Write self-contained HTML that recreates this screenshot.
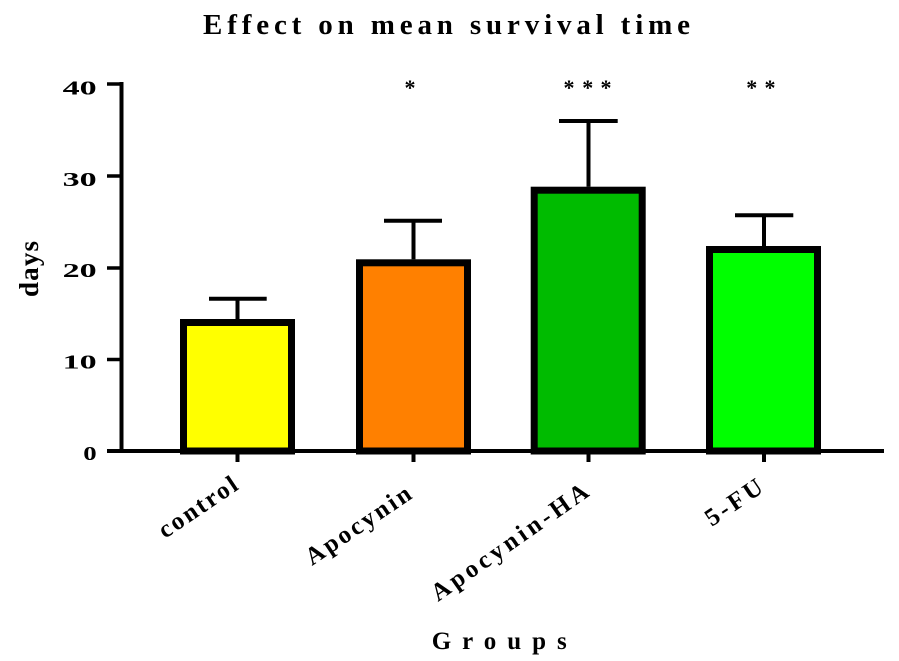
<!DOCTYPE html>
<html>
<head>
<meta charset="utf-8">
<style>
  html, body { margin: 0; padding: 0; background: #ffffff; }
  body { width: 899px; height: 661px; overflow: hidden; }
  svg { display: block; }
  text { font-family: "Liberation Serif", "Times New Roman", serif; font-weight: bold; fill: #000; }
</style>
</head>
<body>
<svg width="899" height="661" viewBox="0 0 899 661" xmlns="http://www.w3.org/2000/svg">
  <!-- Title -->
  <text x="203" y="34" font-size="29" textLength="487" lengthAdjust="spacing">Effect on mean survival time</text>

  <!-- Bars -->
  <rect x="183.5" y="322.5" width="108" height="128.5" fill="#ffff00" stroke="#000" stroke-width="7"/>
  <rect x="359.5" y="262.8" width="108" height="188.2" fill="#ff8000" stroke="#000" stroke-width="7"/>
  <rect x="534.2" y="190.2" width="108" height="260.8" fill="#00bb00" stroke="#000" stroke-width="7"/>
  <rect x="709.5" y="249.5" width="108" height="201.5" fill="#00ff00" stroke="#000" stroke-width="7"/>

  <!-- Error bars -->
  <g stroke="#000" stroke-width="4" fill="none">
    <line x1="237.5" y1="319" x2="237.5" y2="298.7"/>
    <line x1="209" y1="298.7" x2="266.7" y2="298.7"/>
    <line x1="413.5" y1="259.3" x2="413.5" y2="220.7"/>
    <line x1="384" y1="220.7" x2="442" y2="220.7"/>
    <line x1="588.5" y1="186.7" x2="588.5" y2="121"/>
    <line x1="559" y1="121" x2="617.7" y2="121"/>
    <line x1="764" y1="246" x2="764" y2="215.3"/>
    <line x1="735" y1="215.3" x2="793.3" y2="215.3"/>
  </g>

  <!-- Axes -->
  <g stroke="#000" fill="none">
    <line x1="121.5" y1="82" x2="121.5" y2="453" stroke-width="4"/>
    <line x1="107" y1="451" x2="884" y2="451" stroke-width="4"/>
    <line x1="107" y1="84" x2="121" y2="84" stroke-width="3.5"/>
    <line x1="107" y1="176" x2="121" y2="176" stroke-width="3.5"/>
    <line x1="107" y1="268" x2="121" y2="268" stroke-width="3.5"/>
    <line x1="107" y1="359.5" x2="121" y2="359.5" stroke-width="3.5"/>
    <line x1="237.5" y1="451" x2="237.5" y2="462" stroke-width="4"/>
    <line x1="413.5" y1="451" x2="413.5" y2="462" stroke-width="4"/>
    <line x1="588.5" y1="451" x2="588.5" y2="462" stroke-width="4"/>
    <line x1="764" y1="451" x2="764" y2="462" stroke-width="4"/>
  </g>

  <!-- Y tick labels -->
  <text x="62.7" y="94.5" font-size="20" textLength="34" lengthAdjust="spacingAndGlyphs">40</text>
  <text x="62.7" y="186" font-size="20" textLength="34" lengthAdjust="spacingAndGlyphs">30</text>
  <text x="62.7" y="277" font-size="20" textLength="34" lengthAdjust="spacingAndGlyphs">20</text>
  <text x="62.7" y="368.5" font-size="20" textLength="34" lengthAdjust="spacingAndGlyphs">10</text>
  <text x="83.3" y="460" font-size="20" textLength="13.4" lengthAdjust="spacingAndGlyphs">0</text>

  <!-- Y axis title -->
  <text transform="translate(38,297) rotate(-90)" x="0" y="0" font-size="27" textLength="56" lengthAdjust="spacing">days</text>

  <!-- Significance stars -->
  <g font-size="22" text-anchor="middle">
    <text x="410" y="95">*</text>
    <text x="569" y="95">*</text>
    <text x="587.7" y="95">*</text>
    <text x="606" y="95">*</text>
    <text x="751.7" y="95">*</text>
    <text x="770" y="95">*</text>
  </g>

  <!-- X tick labels -->
  <text transform="translate(165,539) rotate(-34)" x="0" y="0" font-size="25" textLength="90" lengthAdjust="spacing">control</text>
  <text transform="translate(312,566) rotate(-34)" x="0" y="0" font-size="25" textLength="122" lengthAdjust="spacing">Apocynin</text>
  <text transform="translate(438,602) rotate(-35)" x="0" y="0" font-size="25" textLength="186" lengthAdjust="spacing">Apocynin-HA</text>
  <text transform="translate(711.7,527) rotate(-34)" x="0" y="0" font-size="25" textLength="64" lengthAdjust="spacing">5-FU</text>

  <!-- X axis title -->
  <text x="431.7" y="649" font-size="25" textLength="135" lengthAdjust="spacing">Groups</text>
</svg>
</body>
</html>
